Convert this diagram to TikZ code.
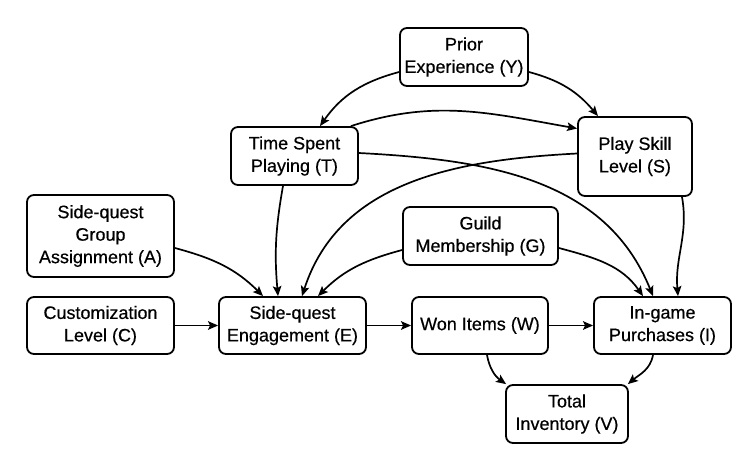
\documentclass[tikz,border=0pt]{standalone}
\usepackage{fontspec}
\setmainfont{Liberation Sans}
\newfontfamily\hfont{Liberation Sans}[BoldFont=Liberation Sans, BoldFeatures={FakeBold=0.5}]
\usetikzlibrary{arrows.meta}
\begin{document}
\begin{tikzpicture}[x=1pt,y=1pt,
  box/.style={draw, rounded corners=7pt, line width=1.8pt, align=center, inner sep=0pt,
    font=\hfont\bfseries\fontsize{18}{22.5}\selectfont},
  arr/.style={line width=1.7pt, -{Stealth[length=10pt,width=8.5pt,inset=2pt]}}]
\useasboundingbox (0,0) rectangle (756,-466);
\node[box, minimum width=128pt, minimum height=58pt] (Y) at (464,-57) {Prior\\Experience (Y)};
\node[box, minimum width=127pt, minimum height=58pt] (T) at (294.5,-156) {Time Spent\\Playing (T)};
\node[box, minimum width=114pt, minimum height=79pt] (S) at (635,-156.5) {Play Skill\\Level (S)};
\node[box, minimum width=147pt, minimum height=82pt] (A) at (100.5,-236) {Side-quest\\Group\\Assignment (A)};
\node[box, minimum width=155pt, minimum height=58pt] (G) at (480.5,-236) {Guild\\Membership (G)};
\node[box, minimum width=147pt, minimum height=57pt] (C) at (100.5,-325.5) {Customization\\Level (C)};
\node[box, minimum width=147pt, minimum height=57pt] (E) at (292.5,-325.5) {Side-quest\\Engagement (E)};
\node[box, minimum width=136pt, minimum height=57pt] (W) at (480,-325.5) {Won Items (W)};
\node[box, minimum width=137pt, minimum height=57pt] (I) at (662.5,-325.5) {In-game\\Purchases (I)};
\node[box, minimum width=122pt, minimum height=58pt] (V) at (567,-414) {Total\\Inventory (V)};

\draw[arr] ([yshift=-15pt]Y.west) to[out=195,in=55] ([xshift=25.5pt]T.north);
\draw[arr] ([yshift=-15pt]Y.east) to[out=-15,in=130] ([xshift=-37pt]S.north);
\draw[arr] ([xshift=-8pt]T.north east) to[out=18,in=170] ([yshift=28pt]S.west);
\draw[arr] ([yshift=3pt]T.east) to[out=-3,in=112] ([xshift=-9.5pt]I.north);
\draw[arr] ([yshift=3pt]S.west) to[out=183,in=72] ([xshift=9.5pt]E.north);
\draw[arr] ([yshift=-12pt]A.east) to[out=-15,in=135] ([xshift=-29.5pt]E.north);
\draw[arr] ([xshift=-11.5pt]T.south) to[out=-100,in=95] ([xshift=-14.5pt]E.north);
\draw[arr] ([yshift=-14pt]G.west) to[out=195,in=45] ([xshift=25.5pt]E.north);
\draw[arr] ([yshift=-12pt]G.east) to[out=-15,in=125] ([xshift=-19.5pt]I.north);
\draw[arr] ([xshift=47pt]S.south) to[out=-80,in=95] ([xshift=15.5pt]I.north);
\draw[arr] (C.east) -- (E.west);
\draw[arr] (E.east) -- (W.west);
\draw[arr] (W.east) -- (I.west);
\draw[arr] ([xshift=7pt]W.south) to[out=-80,in=145] ([xshift=1pt]V.north west);
\draw[arr] ([xshift=-9.5pt]I.south) to[out=-100,in=40] ([xshift=-1pt]V.north east);
\end{tikzpicture}
\end{document}
